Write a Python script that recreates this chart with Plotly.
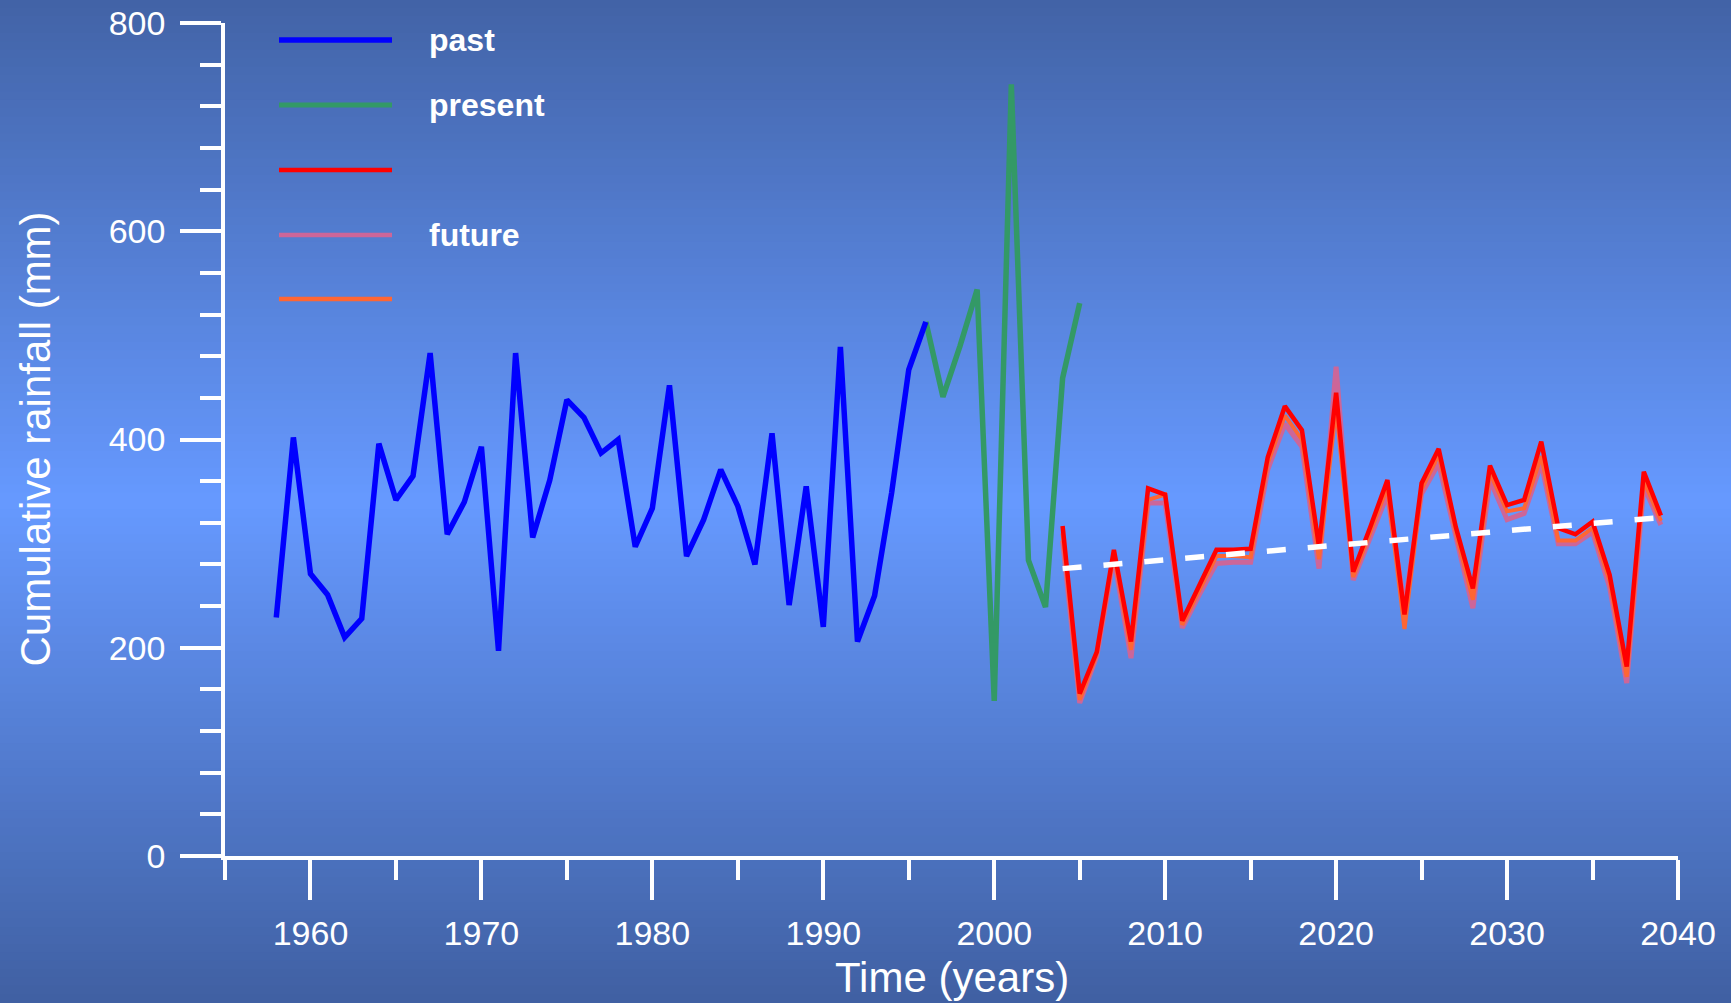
import plotly.graph_objects as go

# ---------------- data ----------------
past_years = list(range(1958, 1997))
past_values = [229, 402, 271, 251, 210, 228, 396, 342, 365, 483,
               309, 340, 393, 197, 483, 306, 361, 438, 421, 387,
               400, 297, 334, 452, 288, 323, 371, 336, 280, 406,
               241, 355, 220, 489, 206, 250, 349, 467, 513]

present_years = list(range(1996, 2006))
present_values = [513, 441, 490, 544, 149, 741, 284, 239, 459, 531]

future_years = list(range(2004, 2040))
future_red = [317, 156, 196, 294, 206, 353, 347, 226, 260, 294,
              294, 295, 383, 432, 409, 297, 445, 273, 316, 361,
              232, 358, 391, 316, 257, 375, 337, 342, 398, 315,
              309, 321, 270, 182, 369, 327]
future_orange = [310, 150, 194, 290, 198, 342, 347, 222, 255, 288,
                 288, 287, 377, 423, 400, 285, 430, 268, 311, 354,
                 218, 352, 385, 311, 246, 368, 331, 334, 384, 303,
                 303, 315, 264, 172, 360, 322]
future_pink = [303, 147, 192, 287, 190, 339, 339, 219, 251, 281,
               282, 282, 371, 415, 393, 276, 470, 265, 306, 347,
               240, 348, 377, 305, 238, 361, 323, 329, 377, 300,
               300, 311, 258, 166, 355, 318]

trend_years = [2004, 2039]
trend_values = [276, 325]

legend_labels = ["past", "present", "", "future", ""]
legend_colors = ["#0000ff", "#339966", "#ff0000", "#cc6699", "#ff6633"]
legend_widths = [5.5, 5, 4.5, 4.5, 4.5]

x_tickvals = list(range(1960, 2041, 10))
y_tickvals = [0, 200, 400, 600, 800]

x_title = "Time (years)"
y_title = "Cumulative rainfall (mm)"

# ---------------- layout geometry ----------------
W, H = 1731, 1003
ML, MR, MT, MB = 225, 53, 23, 147
PW, PH = W - ML - MR, H - MT - MB


def px_to_paper_x(px):
    return (px - ML) / PW


def px_to_paper_y(py):
    return 1 - (py - MT) / PH


FONT = "Liberation Sans, Arial, Helvetica, sans-serif"

fig = go.Figure()

fig.add_trace(go.Scatter(x=future_years, y=future_pink, mode="lines",
                         line=dict(color="#cc6699", width=5), showlegend=False))
fig.add_trace(go.Scatter(x=future_years, y=future_orange, mode="lines",
                         line=dict(color="#ff6633", width=4), showlegend=False))
fig.add_trace(go.Scatter(x=future_years, y=future_red, mode="lines",
                         line=dict(color="#ff0000", width=4.5), showlegend=False))
fig.add_trace(go.Scatter(x=trend_years, y=trend_values, mode="lines",
                         line=dict(color="white", width=5.5, dash="19px,22px"),
                         showlegend=False))
fig.add_trace(go.Scatter(x=present_years, y=present_values, mode="lines",
                         line=dict(color="#339966", width=5.5), showlegend=False))
fig.add_trace(go.Scatter(x=past_years, y=past_values, mode="lines",
                         line=dict(color="#0000ff", width=5.5), showlegend=False))

# ---------------- gradient background ----------------
shapes = []
top_c = (66, 99, 166)
mid_c = (102, 153, 255)
bot_c = (64, 96, 162)
N = 120
x0p = px_to_paper_x(-2)
x1p = px_to_paper_x(W + 2)
for i in range(N):
    t0 = i / N
    t1 = (i + 1) / N
    tm = (t0 + t1) / 2
    if tm < 0.5:
        f = tm / 0.5
        c = [a + (b - a) * f for a, b in zip(top_c, mid_c)]
    else:
        f = (tm - 0.5) / 0.5
        c = [a + (b - a) * f for a, b in zip(mid_c, bot_c)]
    py0 = t0 * H - (2 if i == 0 else 0.6)
    py1 = t1 * H + (2 if i == N - 1 else 0.6)
    shapes.append(dict(type="rect", xref="paper", yref="paper",
                       x0=x0p, x1=x1p, y0=px_to_paper_y(py1), y1=px_to_paper_y(py0),
                       fillcolor="rgb(%d,%d,%d)" % tuple(round(v) for v in c),
                       line=dict(width=0), layer="below"))

# ---------------- manual legend ----------------
annotations = []
leg_rows_px = [40, 105, 170, 235, 299]
lx0 = px_to_paper_x(279)
lx1 = px_to_paper_x(392)
tx = px_to_paper_x(427)
for lab, col, lw, py in zip(legend_labels, legend_colors, legend_widths, leg_rows_px):
    yp = px_to_paper_y(py)
    shapes.append(dict(type="line", xref="paper", yref="paper",
                       x0=lx0, x1=lx1, y0=yp, y1=yp,
                       line=dict(color=col, width=lw), layer="above"))
    if lab:
        annotations.append(dict(xref="paper", yref="paper", x=tx, y=yp,
                                text="<b>%s</b>" % lab, showarrow=False,
                                xanchor="left", yanchor="middle",
                                font=dict(family=FONT, size=32, color="white")))

# axis titles
annotations.append(dict(xref="paper", yref="paper", x=0.5, y=px_to_paper_y(977),
                        text=x_title, showarrow=False, xanchor="center", yanchor="middle",
                        font=dict(family=FONT, size=42, color="white")))
annotations.append(dict(xref="paper", yref="paper", x=px_to_paper_x(35), y=0.5,
                        text=y_title, showarrow=False, textangle=-90,
                        xanchor="center", yanchor="middle",
                        font=dict(family=FONT, size=42, color="white")))

fig.update_layout(
    template="none",
    width=W, height=H,
    margin=dict(l=ML, r=MR, t=MT, b=MB, autoexpand=False),
    paper_bgcolor="rgb(90,135,225)",
    plot_bgcolor="rgba(0,0,0,0)",
    font=dict(family=FONT, color="white"),
    shapes=shapes,
    annotations=annotations,
    showlegend=False,
    xaxis=dict(
        range=[1955, 2040], showgrid=False, zeroline=False, automargin=False,
        showline=True, linecolor="white", linewidth=3.5,
        tickmode="array", tickvals=x_tickvals,
        ticks="outside", ticklen=40, tickwidth=3.5, tickcolor="white",
        tickfont=dict(family=FONT, size=34, color="white"),
        ticklabelstandoff=4,
        minor=dict(ticks="outside", tick0=1955, dtick=5, ticklen=20,
                   tickwidth=3.5, tickcolor="white", showgrid=False),
    ),
    yaxis=dict(
        range=[0, 800], showgrid=False, zeroline=False, automargin=False,
        showline=True, linecolor="white", linewidth=3.5,
        tickmode="array", tickvals=y_tickvals,
        ticks="outside", ticklen=41, tickwidth=3.5, tickcolor="white",
        tickfont=dict(family=FONT, size=34, color="white"),
        ticklabelstandoff=8,
        minor=dict(ticks="outside", tick0=0, dtick=40, ticklen=21,
                   tickwidth=3.5, tickcolor="white", showgrid=False),
    ),
)

fig.write_html("out.html",
               config={"displayModeBar": False},
               post_script="document.body.style.margin='0';document.body.style.overflow='hidden';")
